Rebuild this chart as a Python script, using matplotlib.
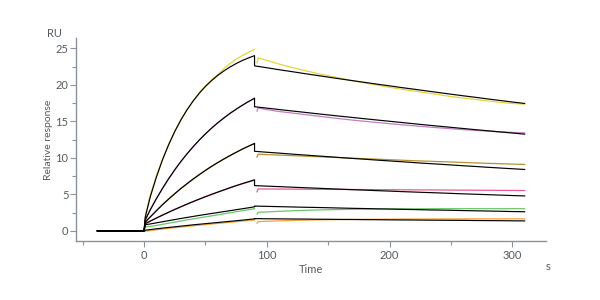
import numpy as np
import matplotlib.pyplot as plt
from matplotlib.ticker import MultipleLocator

plt.rcParams['font.family'] = ['Lato', 'DejaVu Sans']

# time axes (s)
t_assoc = [-38, 0, 1, 5, 10, 15, 20, 25, 30, 35, 40, 45, 50, 55, 60, 65, 70, 75, 80, 85, 90]
t_fit_diss = [90, 100, 110, 120, 130, 140, 150, 160, 170, 180, 190, 200,
              210, 220, 230, 240, 250, 260, 270, 280, 290, 300, 310]
t_data_diss = [92, 93, 100, 110, 120, 130, 140, 150, 160, 170, 180, 190, 200,
               210, 220, 230, 240, 250, 260, 270, 280, 290, 300, 310]

# measured sensorgrams (RU)
data_assoc = {
    'yellow': [0, 0, 1.9, 4.9, 7.5, 9.8, 11.8, 13.6, 15.2, 16.6, 17.8, 18.9, 19.85, 20.65,
               21.4, 22.2, 22.9, 23.5, 24.0, 24.45, 24.85],
    'purple': [0, 0, 1.5, 2.9, 4.4, 5.8, 7.1, 8.35, 9.5, 10.55, 11.5, 12.45, 13.3, 14.05,
               14.8, 15.45, 16.1, 16.65, 17.2, 17.7, 18.15],
    'gold': [0, 0, 1.2, 1.9, 2.75, 3.6, 4.35, 5.1, 5.8, 6.45, 7.1, 7.7, 8.3, 8.85,
             9.35, 9.85, 10.3, 10.75, 11.2, 11.6, 11.95],
    'pink': [0, 0, 1.0, 1.35, 1.75, 2.15, 2.55, 2.95, 3.3, 3.65, 4.0, 4.35, 4.7, 5.0,
             5.3, 5.6, 5.9, 6.2, 6.45, 6.7, 6.95],
    'green': [0, 0, 0.55, 0.62, 0.75, 0.9, 1.05, 1.2, 1.35, 1.5, 1.64, 1.78, 1.92, 2.06,
              2.2, 2.34, 2.48, 2.62, 2.76, 2.9, 3.05],
    'orange': [0, 0, -0.05, 0.05, 0.15, 0.25, 0.35, 0.44, 0.53, 0.62, 0.7, 0.78, 0.86, 0.94,
               1.02, 1.1, 1.18, 1.26, 1.34, 1.42, 1.5],
}
data_diss = {
    'yellow': [23.0, 23.7, 23.35, 22.85, 22.4, 22.0, 21.6, 21.25, 20.9, 20.55, 20.25, 19.95,
               19.65, 19.4, 19.15, 18.9, 18.65, 18.4, 18.2, 18.0, 17.8, 17.6, 17.45, 17.35],
    'purple': [16.4, 16.85, 16.6, 16.35, 16.15, 15.95, 15.75, 15.55, 15.35, 15.17, 15.0, 14.84,
               14.68, 14.53, 14.39, 14.25, 14.12, 13.99, 13.87, 13.76, 13.66, 13.57, 13.49, 13.42],
    'gold': [10.1, 10.5, 10.45, 10.38, 10.31, 10.24, 10.17, 10.1, 10.03, 9.96, 9.89, 9.82,
             9.75, 9.68, 9.61, 9.55, 9.49, 9.43, 9.37, 9.31, 9.25, 9.2, 9.15, 9.1],
    'pink': [5.35, 5.75, 5.74, 5.73, 5.72, 5.71, 5.70, 5.69, 5.68, 5.67, 5.66, 5.65,
             5.64, 5.63, 5.62, 5.61, 5.60, 5.59, 5.58, 5.57, 5.56, 5.55, 5.54, 5.53],
    'green': [2.3, 2.55, 2.6, 2.68, 2.75, 2.81, 2.86, 2.9, 2.93, 2.96, 2.98, 3.0,
              3.01, 3.02, 3.03, 3.03, 3.04, 3.04, 3.04, 3.04, 3.04, 3.04, 3.04, 3.04],
    'orange': [1.05, 1.27, 1.32, 1.38, 1.43, 1.47, 1.5, 1.53, 1.55, 1.57, 1.59, 1.6,
               1.61, 1.62, 1.63, 1.63, 1.64, 1.64, 1.64, 1.65, 1.65, 1.65, 1.65, 1.65],
}

# fitted curves (RU)
fit_assoc = [
    [0, 0, 1.9, 4.62, 7.34, 9.72, 11.79, 13.61, 15.19, 16.58, 17.79, 18.85, 19.78, 20.58,
     21.29, 21.9, 22.44, 22.91, 23.33, 23.68, 24.0],
    [0, 0, 1.5, 2.86, 4.39, 5.81, 7.14, 8.36, 9.5, 10.55, 11.53, 12.44, 13.28, 14.07,
     14.79, 15.46, 16.09, 16.66, 17.2, 17.7, 18.16],
    [0, 0, 1.2, 1.9, 2.76, 3.58, 4.35, 5.09, 5.8, 6.46, 7.1, 7.7, 8.28, 8.83,
     9.35, 9.84, 10.31, 10.76, 11.19, 11.59, 11.98],
    [0, 0, 1.0, 1.33, 1.75, 2.16, 2.55, 2.93, 3.3, 3.67, 4.02, 4.35, 4.68, 5.0,
     5.31, 5.61, 5.91, 6.19, 6.47, 6.73, 6.99],
    [0, 0, 0.85, 0.95, 1.1, 1.25, 1.4, 1.55, 1.7, 1.84, 1.98, 2.12, 2.25, 2.38,
     2.51, 2.64, 2.77, 2.9, 3.03, 3.16, 3.3],
    [0, 0, 0.1, 0.18, 0.28, 0.38, 0.47, 0.56, 0.65, 0.74, 0.83, 0.91, 0.99, 1.07,
     1.15, 1.23, 1.31, 1.39, 1.47, 1.56, 1.65],
]
fit_diss = [
    [22.6, 22.34, 22.07, 21.82, 21.56, 21.31, 21.06, 20.81, 20.57, 20.33, 20.09, 19.86,
     19.62, 19.4, 19.17, 18.94, 18.72, 18.5, 18.29, 18.07, 17.86, 17.65, 17.45],
    [17.0, 16.81, 16.62, 16.43, 16.25, 16.06, 15.88, 15.7, 15.53, 15.35, 15.18, 15.01,
     14.84, 14.67, 14.5, 14.34, 14.18, 14.02, 13.86, 13.71, 13.55, 13.4, 13.25],
    [10.9, 10.77, 10.65, 10.52, 10.4, 10.28, 10.16, 10.04, 9.92, 9.81, 9.69, 9.58,
     9.47, 9.35, 9.24, 9.14, 9.03, 8.92, 8.82, 8.71, 8.61, 8.51, 8.41],
    [6.2, 6.13, 6.06, 5.99, 5.92, 5.85, 5.78, 5.71, 5.64, 5.58, 5.51, 5.45,
     5.38, 5.32, 5.26, 5.2, 5.14, 5.07, 5.02, 4.96, 4.9, 4.84, 4.79],
    [3.4, 3.36, 3.32, 3.28, 3.24, 3.21, 3.17, 3.13, 3.09, 3.06, 3.02, 2.99,
     2.95, 2.92, 2.88, 2.85, 2.82, 2.78, 2.75, 2.72, 2.69, 2.65, 2.62],
    [1.68, 1.66, 1.65, 1.63, 1.62, 1.6, 1.59, 1.57, 1.56, 1.54, 1.53, 1.51,
     1.5, 1.49, 1.47, 1.46, 1.45, 1.44, 1.42, 1.41, 1.4, 1.38, 1.37],
]

colors = {'yellow': '#e6d43c', 'purple': '#c47cc4', 'gold': '#b8912e',
          'pink': '#ea5a94', 'green': '#6cc46c', 'orange': '#f2a23c'}

axis_col = '#8c939c'
text_col = '#555a60'

fig = plt.figure(figsize=(6, 3), dpi=100)
ax = fig.add_axes([0.1267, 0.197, 0.7833, 0.676])

for name in colors:
    ax.plot(t_assoc, data_assoc[name], color=colors[name], lw=0.9)
    ax.plot(t_data_diss, data_diss[name], color=colors[name], lw=0.9)

for fa, fd in zip(fit_assoc, fit_diss):
    ax.plot(t_assoc + t_fit_diss, fa + fd, color='black', lw=0.85)

ax.set_xlim(-55.4, 327.4)
ax.set_ylim(-1.37, 26.4)
ax.xaxis.set_major_locator(MultipleLocator(100))
ax.xaxis.set_minor_locator(MultipleLocator(50))
ax.yaxis.set_major_locator(MultipleLocator(5))
ax.yaxis.set_minor_locator(MultipleLocator(2.5))

for side in ['top', 'right']:
    ax.spines[side].set_visible(False)
for side in ['left', 'bottom']:
    ax.spines[side].set_color(axis_col)
    ax.spines[side].set_linewidth(1.0)

ax.tick_params(which='both', direction='out', color=axis_col, labelcolor=text_col,
               labelsize=8, width=0.8)
ax.tick_params(axis='y', pad=1.5)
ax.tick_params(axis='x', pad=2.5)
ax.tick_params(which='major', length=4)
ax.tick_params(which='minor', length=3)

ax.set_xlabel('Time', fontsize=8, color=text_col, labelpad=2)
ax.set_ylabel('Relative response', fontsize=7.5, color=text_col)
ax.yaxis.set_label_coords(-0.05, 0.5)
fig.text(0.079, 0.876, 'RU', fontsize=8, color=text_col)
fig.text(0.91, 0.1, 's', fontsize=8, color=text_col)

fig.savefig('out.png', dpi=100)
